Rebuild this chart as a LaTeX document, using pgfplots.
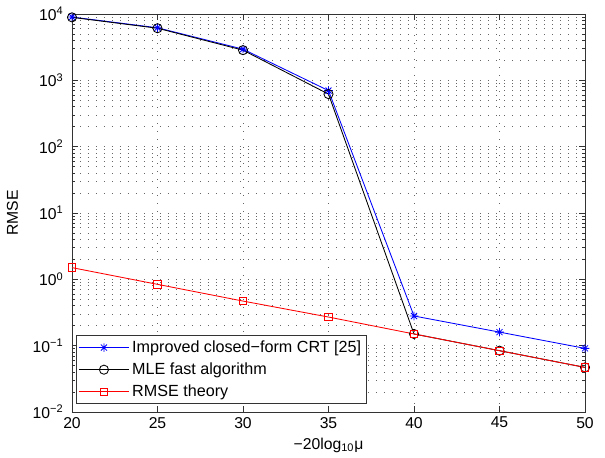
\documentclass[border=0pt]{standalone}
\usepackage{fontspec}
\setmainfont{Liberation Sans}
\usepackage{pgfplots}
\pgfplotsset{compat=1.18}

\pgfdeclareplotmark{mstar}{%
  \pgfpathmoveto{\pgfqpoint{-\pgfplotmarksize}{0pt}}\pgfpathlineto{\pgfqpoint{\pgfplotmarksize}{0pt}}%
  \pgfpathmoveto{\pgfqpoint{0pt}{-\pgfplotmarksize}}\pgfpathlineto{\pgfqpoint{0pt}{\pgfplotmarksize}}%
  \pgfpathmoveto{\pgfqpoint{-.7071\pgfplotmarksize}{-.7071\pgfplotmarksize}}\pgfpathlineto{\pgfqpoint{.7071\pgfplotmarksize}{.7071\pgfplotmarksize}}%
  \pgfpathmoveto{\pgfqpoint{-.7071\pgfplotmarksize}{.7071\pgfplotmarksize}}\pgfpathlineto{\pgfqpoint{.7071\pgfplotmarksize}{-.7071\pgfplotmarksize}}%
  \pgfusepathqstroke}

\begin{document}
\begin{tikzpicture}[font=\fontsize{11}{13.2}\selectfont]
\begin{axis}[
  scale only axis, width=359.1pt, height=278.6pt,
  ymode=log, log basis y=10,
  xmin=20, xmax=50, ymin=1e-2, ymax=1e4,
  xtick={20,25,30,35,40,45,50},
  ytick={1e-2,1e-1,1,1e1,1e2,1e3,1e4},
  minor ytick={0.02,0.03,0.04,0.05,0.06,0.07,0.08,0.09,
    0.2,0.3,0.4,0.5,0.6,0.7,0.8,0.9,
    2,3,4,5,6,7,8,9,
    20,30,40,50,60,70,80,90,
    200,300,400,500,600,700,800,900,
    2000,3000,4000,5000,6000,7000,8000,9000},
  yticklabel={\pgfmathtruncatemacro{\myexp}{round(\tick)}10\textsuperscript{\ifnum\myexp<0 −\the\numexpr-\myexp\relax\else\myexp\fi}},
  yticklabel style={xshift=-2.5pt},
  /pgf/number format/assume math mode=true,
  tick align=inside,
  major tick length=4pt, minor tick length=2.2pt,
  xmajorgrids, ymajorgrids, yminorgrids,
  major grid style={black!60, line width=0.5pt, dash pattern=on 0.7pt off 4.9pt},
  minor grid style={black!60, line width=0.5pt, dash pattern=on 0.7pt off 4.9pt},
  axis line style={black!80, line width=0.6pt},
  every tick/.style={black!80, line width=0.5pt},
  xlabel={−20log\textsubscript{10}μ},
  ylabel={RMSE},
  xlabel style={at={(axis description cs:0.5,-0.083)}, anchor=center},
  ylabel style={at={(axis description cs:-0.116,0.5)}, anchor=center},
  legend style={at={(0.008,0.02)}, anchor=south west, draw=black!80, fill=white,
    inner sep=1.5pt, row sep=1.8pt, font=\fontsize{11.3}{13.5}\selectfont},
  legend cell align=left,
  legend image code/.code={\draw[mark repeat=2,mark phase=2,#1] plot coordinates {(0pt,0pt) (17.5pt,0pt) (35pt,0pt)};},
  clip=false,
]
\addplot[blue, line width=0.6pt, mark=mstar, mark size=3pt] coordinates {
  (20,9000) (25,6200) (30,2950) (35,700) (40,0.28) (45,0.16) (50,0.091)};
\addlegendentry{Improved closed−form CRT [25]}
\addplot[black, line width=0.6pt, mark=o, mark size=3.2pt] coordinates {
  (20,8900) (25,6100) (30,2850) (35,620) (40,0.15) (45,0.084) (50,0.047)};
\addlegendentry{MLE fast algorithm}
\addplot[red, line width=0.6pt, mark=square, mark size=2.6pt] coordinates {
  (20,1.5) (25,0.84) (30,0.47) (35,0.27) (40,0.15) (45,0.084) (50,0.047)};
\addlegendentry{RMSE theory}
\end{axis}
\path ([xshift=-50.4pt,yshift=-32.2pt]current axis.south west) rectangle ([xshift=14pt,yshift=9.8pt]current axis.north east);
\end{tikzpicture}
\end{document}
